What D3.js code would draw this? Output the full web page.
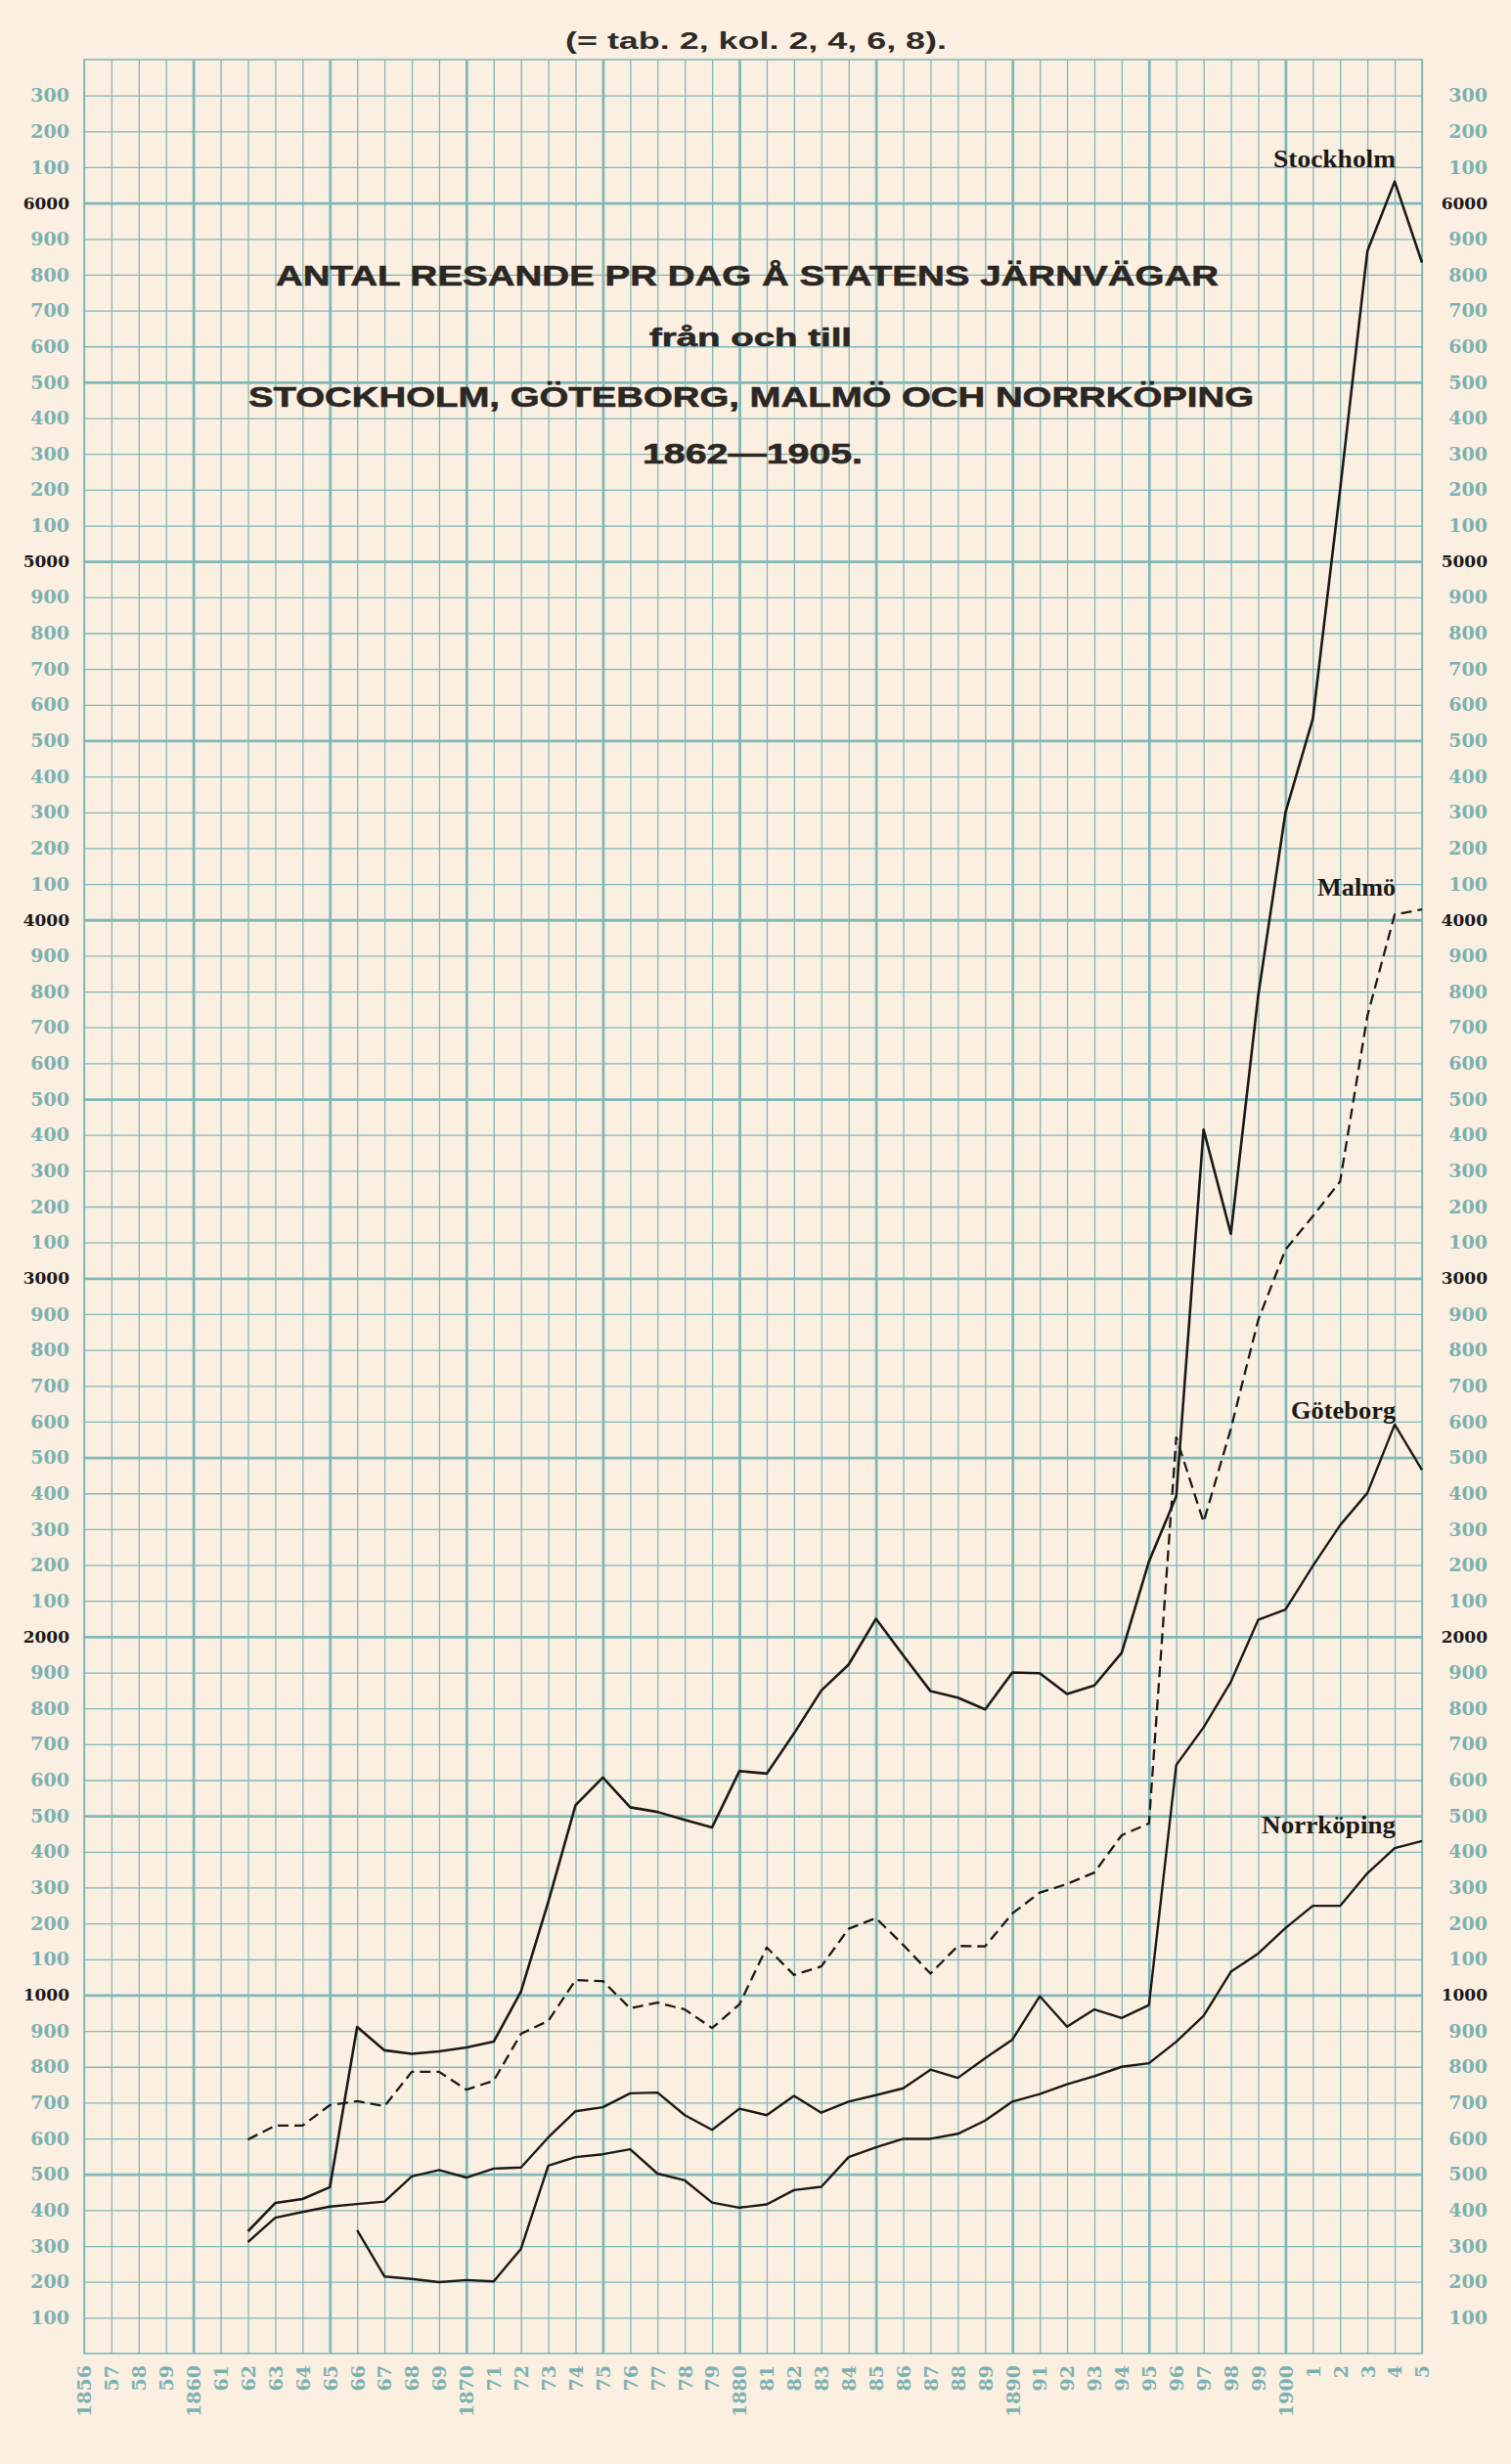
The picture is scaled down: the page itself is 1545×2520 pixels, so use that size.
<!DOCTYPE html>
<html>
<head>
<meta charset="utf-8">
<script src="https://cdn.jsdelivr.net/npm/d3@7/dist/d3.min.js"></script>
<style>
body{margin:0;background:#fbefe1;}
svg{display:block;}
</style>
</head>
<body>
<div id="chart"></div>
<script>
// years on the x axis, and the years each city has figures for
var allYears = d3.range(1856,1906)
var years = d3.range(1862,1906)
var yearsNorrkoping = d3.range(1866,1906)

// resande pr dag
var stockholm = [341,420,431,464,911,846,836,843,854,870,1010,1260,1530,1607,1524,1511,1489,1468,1625,1618,
    1730,1850,1922,2050,1948,1848,1830,1797,1900,1898,1840,1864,1955,2210,2392,3415,3124,3788,4300,4560,
    5200,5866,6060,5834]
var goteborg = [311,379,395,410,417,424,494,512,491,516,519,603,676,687,726,728,665,624,683,665,
    719,672,703,721,740,792,769,824,876,997,912,960,936,972,1642,1747,1874,2047,2076,2197,
    2311,2401,2592,2465]
var malmo = [597,636,636,693,704,690,786,786,736,761,892,928,1042,1039,963,979,960,908,974,1133,
    1056,1080,1185,1215,1140,1060,1137,1136,1228,1286,1310,1342,1446,1479,2556,2320,2580,2883,3080,3173,
    3270,3732,4015,4029]
var norrkoping = [344,215,208,199,205,201,292,524,548,556,570,502,483,421,407,416,456,465,548,575,
    599,599,613,650,703,724,751,774,800,810,870,942,1065,1116,1187,1249,1249,1340,1410,1430]

// y ticks every hundred
var yTicks = d3.range(100,6400,100)

// end labels of the curves
var labelNames = ["Stockholm","Malmö","Göteborg","Norrköping"]
var labelValues = [6100,4067,2608,1450]

var topNote = "(= tab. 2, kol. 2, 4, 6, 8)."
var titleLines = ["ANTAL RESANDE PR DAG Å STATENS JÄRNVÄGAR","från och till",
    "STOCKHOLM, GÖTEBORG, MALMÖ OCH NORRKÖPING","1862—1905."]

var width = 1545
var height = 2520
var plotLeft = 86, plotRight = 1454, plotTop = 61, plotBottom = 2407
var gridColor = "#80b8ba"
var tealText = "#7cb1b2"
var ink = "#1c1a18"

var x = d3.scaleLinear().domain([1856,1905]).range([plotLeft,plotRight])
var y = d3.scaleLinear().domain([0,6400]).range([plotBottom,plotTop])

var svg = d3.select("#chart").append("svg").attr("width",width).attr("height",height)
svg.append("rect").attr("width",width).attr("height",height).attr("fill","#fbefe1")

drawGrid()
drawLines()
drawTexts()

function yLabel(d){
    return d%1000==0 ? String(d) : String(d%1000)
}
function yearLabel(d){
    return (d%10==0||d==1856) ? String(d) : String(d%100)
}
function drawGrid(){
    var xAxis = d3.axisBottom(x).tickValues(allYears).tickSize(-(plotBottom-plotTop)).tickFormat(yearLabel)
    var gx = svg.append("g").attr("transform","translate(0,"+plotBottom+")").call(xAxis)
    gx.select(".domain").remove()
    gx.selectAll("line")
        .attr("stroke",gridColor)
        .attr("stroke-width",function(d){ return (d%5==0&&d!=1905) ? 2.8 : 1.3 })
    gx.selectAll("text")
        .attr("transform","rotate(-90)")
        .attr("x",-12).attr("y",0).attr("dy","0.36em")
        .style("text-anchor","end")
        .attr("fill",tealText)
        .attr("font-family","DejaVu Serif").attr("font-weight","bold").attr("font-size",19)

    var yAxis = d3.axisLeft(y).tickValues(yTicks).tickSize(-(plotRight-plotLeft)).tickPadding(15).tickFormat(yLabel)
    var gy = svg.append("g").attr("transform","translate("+plotLeft+",0)").call(yAxis)
    gy.select(".domain").remove()
    gy.selectAll("line")
        .attr("stroke",gridColor)
        .attr("stroke-width",function(d){ return d%500==0 ? 2.8 : 1.3 })
    styleYText(gy)

    var yAxisR = d3.axisRight(y).tickValues(yTicks).tickSize(0).tickFormat(yLabel)
    var gr = svg.append("g").attr("transform","translate("+plotRight+",0)").call(yAxisR)
    gr.select(".domain").remove()
    gr.selectAll("text").attr("x",67).style("text-anchor","end")
    styleYText(gr)

    svg.append("rect")
        .attr("x",plotLeft).attr("y",plotTop).attr("width",plotRight-plotLeft).attr("height",plotBottom-plotTop)
        .attr("fill","none").attr("stroke",gridColor).attr("stroke-width",1.6)
}
function styleYText(g){
    g.selectAll("text")
        .attr("font-family","DejaVu Serif").attr("font-weight","bold")
        .attr("font-size",function(d){ return d%1000==0 ? 17 : 19 })
        .attr("fill",function(d){ return d%1000==0 ? ink : tealText })
}
function drawLines(){
    var series = [
        {years:years,values:stockholm,dash:null,w:2.6},
        {years:years,values:goteborg,dash:null,w:2.4},
        {years:years,values:malmo,dash:"11,6",w:2.3},
        {years:yearsNorrkoping,values:norrkoping,dash:null,w:2.4}
    ]
    var line = d3.line()
        .x(function(d){ return x(d[0]) })
        .y(function(d){ return y(d[1]) })
    svg.selectAll(".city")
        .data(series)
        .enter()
        .append("path")
        .attr("class","city")
        .attr("d",function(s){ return line(d3.zip(s.years,s.values)) })
        .attr("fill","none")
        .attr("stroke",ink)
        .attr("stroke-width",function(s){ return s.w })
        .attr("stroke-dasharray",function(s){ return s.dash })
        .attr("stroke-linejoin","round")
}
function drawTexts(){
    var labelWidths = [125,80,107,137]
    svg.selectAll(".cityLabel")
        .data(labelNames)
        .enter()
        .append("text")
        .attr("class","cityLabel")
        .text(function(d){ return d })
        .attr("x",function(d,i){ return x(1904)-labelWidths[i]+1 })
        .attr("y",function(d,i){ return y(labelValues[i]) })
        .attr("textLength",function(d,i){ return labelWidths[i] })
        .attr("lengthAdjust","spacingAndGlyphs")
        .attr("font-family","Liberation Serif").attr("font-weight","bold").attr("font-size",25)
        .attr("fill",ink)

    svg.append("text").text(topNote)
        .attr("x",578).attr("y",50)
        .attr("textLength",390).attr("lengthAdjust","spacingAndGlyphs")
        .attr("font-family","Liberation Sans").attr("font-weight","bold").attr("font-size",24)
        .attr("fill","#2e2b28")

    var tx = [282,664,254,657]
    var ty = [292,354,416,474]
    var tw = [964,207,1028,225]
    var ts = [29,26,29,29]
    svg.selectAll(".title")
        .data(titleLines)
        .enter()
        .append("text")
        .attr("class","title")
        .text(function(d){ return d })
        .attr("x",function(d,i){ return tx[i] })
        .attr("y",function(d,i){ return ty[i] })
        .attr("textLength",function(d,i){ return tw[i] })
        .attr("lengthAdjust","spacingAndGlyphs")
        .attr("font-family","Liberation Sans").attr("font-weight","bold")
        .attr("font-size",function(d,i){ return ts[i] })
        .attr("fill","#2a2724")
        .attr("stroke","#2a2724").attr("stroke-width",0.6)
}
</script>
</body>
</html>
